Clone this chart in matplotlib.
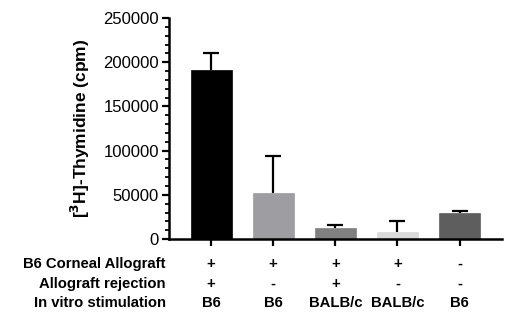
import numpy as np
import matplotlib.pyplot as plt
from matplotlib.ticker import MultipleLocator

plt.rcParams['font.family'] = ['Liberation Sans', 'DejaVu Sans']

# values
cpm_mean = [191000, 52000, 13000, 8500, 29000]
cpm_err = [19000, 42000, 3000, 11500, 3200]
bar_colors = ["#000000", "#9d9da2", "#808080", "#dadada", "#5e5e5e"]

row_labels = ["B6 Corneal Allograft", "Allograft rejection", "In vitro stimulation"]
allograft = ["+", "+", "+", "+", "-"]
rejection = ["+", "-", "+", "-", "-"]
stimulation = ["B6", "B6", "BALB/c", "BALB/c", "B6"]

fig = plt.figure(figsize=(5.1, 3.27), dpi=100)
ax = fig.add_axes([0.331, 0.269, 0.653, 0.676])

x = np.arange(len(cpm_mean))
ax.bar(x, cpm_mean, width=0.66, color=bar_colors, edgecolor=bar_colors, linewidth=0.5, zorder=2)
eb = ax.errorbar(x, cpm_mean, yerr=[np.zeros(len(cpm_err)), cpm_err], fmt="none",
                 ecolor="black", elinewidth=1.6, capsize=6, capthick=1.6, zorder=1)
# only the upper caps
eb[1][0].set_visible(False)

ax.set_xlim(-0.68, 4.68)
ax.set_ylim(0, 250000)
ax.yaxis.set_major_locator(MultipleLocator(50000))
ax.yaxis.set_minor_locator(MultipleLocator(10000))
ax.set_xticks(x)
ax.set_xticklabels([])

for s in ["top", "right"]:
    ax.spines[s].set_visible(False)
for s in ["left", "bottom"]:
    ax.spines[s].set_linewidth(1.8)

ax.tick_params(axis="y", which="major", length=5, width=1.6, labelsize=12, pad=2)
ax.tick_params(axis="y", which="minor", length=3, width=1.3)
ax.tick_params(axis="x", which="major", length=5, width=1.6)

ax.set_ylabel(r"[$^{\mathbf{3}}$H]-Thymidine (cpm)", fontsize=12.5, fontweight="bold", labelpad=8)

tr = ax.get_xaxis_transform()
rows = [allograft, rejection, stimulation]
row_y = [-0.113, -0.204, -0.290]
for label, vals, yy in zip(row_labels, rows, row_y):
    ax.text(-0.009, yy, label, transform=ax.transAxes, ha="right", va="center",
            fontsize=10.7, fontweight="bold")
    for xi, v in zip(x, vals):
        ax.text(xi, yy, v, transform=tr, ha="center", va="center",
                fontsize=10.7, fontweight="bold")

fig.savefig("out.png", dpi=100)
